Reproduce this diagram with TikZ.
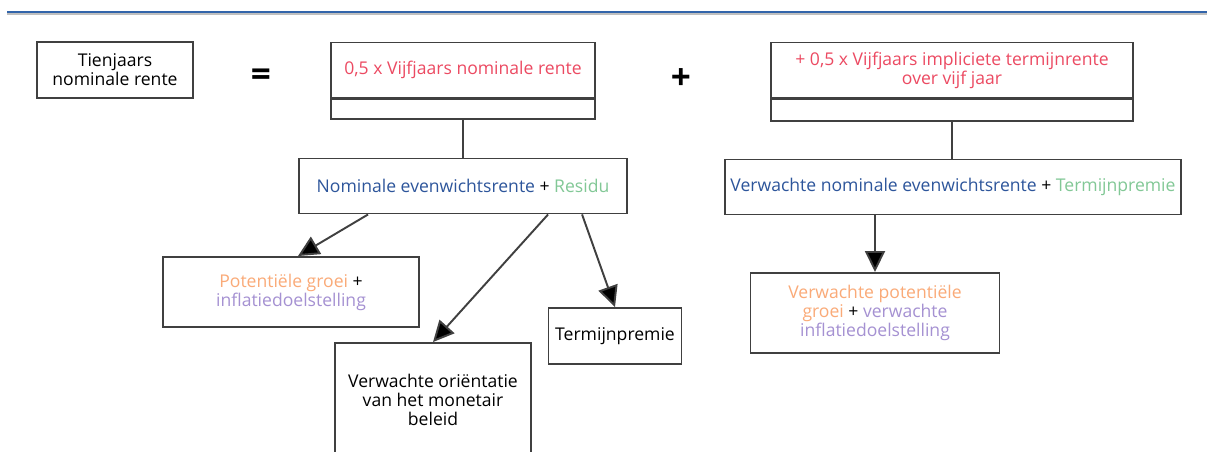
\documentclass[tikz,border=0pt]{standalone}
\usepackage{fontspec}
\setmainfont{Open Sans}
\usetikzlibrary{arrows.meta,calc}
\definecolor{rred}{RGB}{236,74,98}
\definecolor{rblue}{RGB}{45,85,155}
\definecolor{rgreen}{RGB}{130,200,150}
\definecolor{rorange}{RGB}{250,170,120}
\definecolor{rpurple}{RGB}{165,145,210}
\definecolor{rline}{RGB}{50,100,170}
\begin{document}
\begin{tikzpicture}[x=0.02cm,y=-0.02cm,every node/.style={font=\fontsize{10}{10.8}\selectfont,align=center,inner sep=0pt},box/.style={draw=black!75,line width=1.1pt,fill=white},brace/.style={draw=black!75,line width=1.1pt,anchor=north},sign/.style={font=\fontsize{20}{20}\selectfont\bfseries},arr/.style={draw=black!75,line width=1.1pt,-{Triangle[length=0.42cm,width=0.4cm,fill=black]}}]
\useasboundingbox (0,0) rectangle (1211,452);
\clip (0,0) rectangle (1211,452);
\draw[black!25,line width=1pt] (7,14) -- (1207,14);
\draw[rline,line width=1.5pt] (7,12) -- (1207,12);

\node[box,minimum width=3.12cm,minimum height=1.12cm] (tien) at (115,70) {Tienjaars\\nominale rente};
\node[sign] (eq) at (261,78) {=};
\node[box,minimum width=5.28cm,minimum height=1.1cm,text=rred] (rente5) at (463,70) {0,5 x Vijfjaars nominale rente};
\node[brace,minimum width=5.28cm,minimum height=0.4cm] (brace1) at (rente5.south) {};
\node[box,minimum width=6.56cm,minimum height=1.1cm] (nom) at (463,186) {\textcolor{rblue}{Nominale evenwichtsrente} + \textcolor{rgreen}{Residu}};
\node[sign] (plus) at (681,79) {+};
\node[box,minimum width=7.24cm,minimum height=1.1cm,text=rred] (impl) at (952,70) {+ 0,5 x Vijfjaars impliciete termijnrente\\over vijf jaar};
\node[brace,minimum width=7.24cm,minimum height=0.44cm] (brace2) at (impl.south) {};
\node[box,minimum width=9.12cm,minimum height=1.1cm] (vnom) at (953,187) {\textcolor{rblue}{Verwachte nominale evenwichtsrente} + \textcolor{rgreen}{Termijnpremie}};
\node[box,minimum width=5.12cm,minimum height=1.4cm] (pot) at (291,292) {\textcolor{rorange}{Potentiële groei} +\\\textcolor{rpurple}{inflatiedoelstelling}};
\node[box,minimum width=3.92cm,minimum height=2.28cm] (orient) at (433,400) {Verwachte oriëntatie\\van het monetair\\beleid};
\node[box,minimum width=2.66cm,minimum height=1.12cm] (term) at (615,336) {Termijnpremie};
\node[box,minimum width=4.98cm,minimum height=1.6cm] (vpot) at (875,313) {\textcolor{rorange}{Verwachte potentiële}\\\textcolor{rorange}{groei} + \textcolor{rpurple}{verwachte}\\\textcolor{rpurple}{inflatiedoelstelling}};

\draw[draw=black!75,line width=1.1pt] (brace1.south) -- (brace1.south |- nom.north);
\draw[draw=black!75,line width=1.1pt] (brace2.south) -- (brace2.south |- vnom.north);
\draw[arr] ($(nom.south west)+(70,0)$) -- ($(pot.north)+(7,0)$);
\draw[arr] ($(nom.south west)+(250,0)$) -- (orient.north);
\draw[arr] ($(nom.south west)+(284,0)$) -- (term.north);
\draw[arr] (vpot.north |- vnom.south) -- (vpot.north);
\end{tikzpicture}
\end{document}
